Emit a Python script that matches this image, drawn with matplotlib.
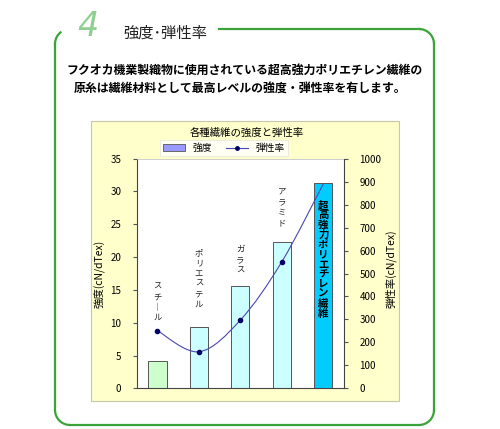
import numpy as np
import matplotlib.pyplot as plt
from matplotlib.path import Path
from matplotlib.patches import PathPatch, Rectangle, Arc
from matplotlib.lines import Line2D

plt.rcParams['font.family'] = ['Noto Sans CJK JP', 'DejaVu Sans']

# data
fibers = ['スチール', 'ポリエステル', 'ガラス', 'アラミド', '超高強力ポリエチレン繊維']
strength = [4.15, 9.3, 15.6, 22.35, 31.25]       # cN/dTex
modulus = [251, 159, 297, 551, 890]               # cN/dTex
bar_colors = ['#ccffcc', '#ccffff', '#ccffff', '#ccffff', '#00ccff']
label_top = [16.2, 21.4, 21.9, 30.7, 28.7]

H = 429
fig = plt.figure(figsize=(5.0, 4.29), dpi=100)

# background layer in pixel coords (y measured from top)
bg = fig.add_axes([0, 0, 1, 1])
bg.set_xlim(0, 500)
bg.set_ylim(0, H)
bg.axis('off')

def Y(y):
    return H - y

green = '#3aa33a'
r = 15
lw = 1.6
bg.plot([219, 419], [Y(29), Y(29)], color=green, lw=lw)
bg.add_patch(Arc((419, Y(44)), 2*r, 2*r, theta1=0, theta2=90, color=green, lw=lw))
bg.plot([434, 434], [Y(44), Y(410)], color=green, lw=lw)
bg.add_patch(Arc((419, Y(410)), 2*r, 2*r, theta1=270, theta2=360, color=green, lw=lw))
bg.plot([70, 419], [Y(425), Y(425)], color=green, lw=lw)
bg.add_patch(Arc((70, Y(410)), 2*r, 2*r, theta1=180, theta2=270, color=green, lw=lw))
bg.plot([55, 55], [Y(44), Y(410)], color=green, lw=lw)
bg.add_patch(Arc((70, Y(44)), 2*r, 2*r, theta1=125, theta2=180, color=green, lw=lw))

bg.text(88, Y(27), '4', color='#8fcf8f', fontsize=24, style='italic',
        family='DejaVu Sans', fontweight='light', ha='center', va='center')
bg.text(123, Y(33), '強度･弾性率', fontsize=11, color='#222222', ha='left', va='center')

bg.text(245, Y(70), 'フクオカ機業製織物に使用されている超高強力ポリエチレン繊維の',
        fontsize=8.6, fontweight='bold', ha='center', va='center')
bg.text(240, Y(88), '原糸は繊維材料として最高レベルの強度・弾性率を有します。',
        fontsize=8.6, fontweight='bold', ha='center', va='center')

# chart panel
bg.add_patch(Rectangle((91, Y(400.5)), 308, 280, facecolor='#ffffcc',
                       edgecolor='#c8c8a8', lw=0.8))
bg.text(247, Y(133), '各種繊維の強度と弾性率', fontsize=7.5, ha='center', va='center')

ax = fig.add_axes([136.7/500, 1-388.3/H, (344-136.7)/500, (388.3-158.7)/H])
ax.set_facecolor('white')
x = np.arange(len(fibers))
ax.bar(x, strength, width=0.44, color=bar_colors, edgecolor='#555555', lw=0.7, zorder=2)
ax.set_xlim(-0.5, len(fibers) - 0.5)
ax.set_ylim(0, 35)
ax.set_yticks(np.arange(0, 36, 5))
ax.set_xticks([])
ax.tick_params(axis='y', direction='out', length=3, labelsize=7, pad=8, color='#555555')
ax.set_ylabel('強度(cN/dTex)', fontsize=7.5)
ax.yaxis.set_label_coords(-0.155, 0.5)
for s in ['left', 'bottom']:
    ax.spines[s].set_color('#444444')
    ax.spines[s].set_linewidth(0.8)
ax.spines['top'].set_color('#bbbbbb')
ax.spines['top'].set_linewidth(0.5)
ax.spines['right'].set_visible(False)

for i, name in enumerate(fibers):
    vert = '\n'.join('｜' if c == 'ー' else c for c in name)
    if i == len(fibers) - 1:
        ax.text(i, label_top[i], vert, fontsize=7.5, fontweight='bold', ha='center',
                va='top', linespacing=0.98, zorder=4)
    else:
        ax.text(i, label_top[i], vert, fontsize=6, ha='center', va='top',
                linespacing=1.2, zorder=4, color='#222222')

ax2 = ax.twinx()
ax2.set_ylim(0, 1000)
ax2.set_yticks(np.arange(0, 1001, 100))
ax2.tick_params(axis='y', direction='out', length=3, labelsize=7, pad=8, color='#555555')
ax2.set_ylabel('弾性率(cN/dTex)', fontsize=7.5, rotation=90)
ax2.yaxis.set_label_coords(1.2, 0.52)
ax2.spines['right'].set_color('#444444')
ax2.spines['right'].set_linewidth(0.8)
for s in ['left', 'top', 'bottom']:
    ax2.spines[s].set_visible(False)

# smoothed line (Catmull-Rom drawn as bezier)
pts = np.column_stack([x, modulus]).astype(float)
verts = [tuple(pts[0])]
codes = [Path.MOVETO]
for i in range(len(pts) - 1):
    p0 = pts[i - 1] if i > 0 else pts[i]
    p1, p2 = pts[i], pts[i + 1]
    p3 = pts[i + 2] if i + 2 < len(pts) else pts[i + 1]
    c1 = p1 + (p2 - p0) / 6
    c2 = p2 - (p3 - p1) / 6
    verts += [tuple(c1), tuple(c2), tuple(p2)]
    codes += [Path.CURVE4] * 3
ax2.add_patch(PathPatch(Path(verts, codes), fill=False, edgecolor='#4848b0', lw=0.8, zorder=3))
ax2.plot(x[:-1], modulus[:-1], ls='none', marker='o', ms=3, color='#000066', zorder=4)

handles = [Rectangle((0, 0), 1, 1, facecolor='#9999ff', edgecolor='#555555', lw=0.6),
           Line2D([], [], color='#4848b0', lw=0.8, marker='o', ms=2.5, mfc='#000066', mec='#000066')]
leg = fig.legend(handles, ['強度', '弾性率'], loc='center', bbox_to_anchor=(224/500, 1-148/H),
                 ncol=2, fontsize=7, frameon=True, fancybox=False, edgecolor='#dddddd',
                 handlelength=2.2, handleheight=0.7, columnspacing=1.5, borderpad=0.3)
leg.get_frame().set_linewidth(0.5)

fig.savefig('out.png', dpi=100)
